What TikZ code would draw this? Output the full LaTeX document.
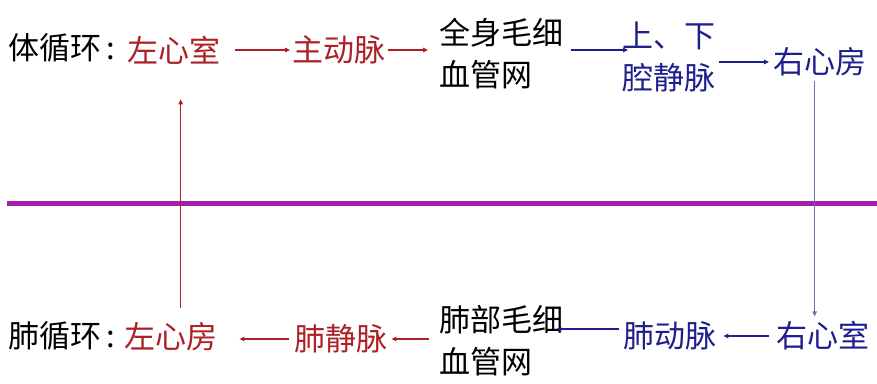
\documentclass[tikz,border=0pt]{standalone}
\usepackage{fontspec}
\usepackage{xcolor}
\usetikzlibrary{arrows.meta}
\newfontfamily\cjk{Noto Sans CJK SC}
\definecolor{organred}{RGB}{172,32,38}
\definecolor{vesselblue}{RGB}{30,30,140}
\definecolor{paleblue}{RGB}{110,110,175}
\definecolor{dividerpurple}{RGB}{165,30,170}

\begin{document}
\begin{tikzpicture}[x=1pt, y=-1pt,
  lbl/.style={inner sep=0pt, anchor=west, font=\cjk\fontsize{31}{42}\selectfont},
  redlbl/.style={lbl, text=organred},
  bluelbl/.style={lbl, text=vesselblue},
  redarrow/.style={organred, line width=1.2pt, -{Triangle[length=5pt,width=4.5pt]}},
  bluearrow/.style={vesselblue, line width=1.2pt, -{Triangle[length=5pt,width=4.5pt]}}]
	\useasboundingbox (0,0) rectangle (877,383);
	% upper half: systemic circulation
	\node[lbl] (tilabel) at (8,48) {体循环\kern5pt:};
	\node[redlbl] (lv) at (127,50) {左心室};
	\node[redlbl] (ao) at (292,50) {主动脉};
	\node[lbl, align=left] (capb) at (439,54) {全身毛细\\血管网};
	\node[bluelbl, align=center] (vc) at (622,57) {上、下\\腔静脉};
	\node[bluelbl] (ra) at (773,62) {右心房};
	% lower half: pulmonary circulation
	\node[lbl] (pclabel) at (8,336) {肺循环\kern5pt:};
	\node[redlbl] (la) at (124,337) {左心房};
	\node[redlbl] (pv) at (294,339) {肺静脉};
	\node[lbl, align=left] (capp) at (439,341) {肺部毛细\\血管网};
	\node[bluelbl] (pa) at (623,336) {肺动脉};
	\node[bluelbl] (rv) at (776,336) {右心室};
	% divider
	\draw[dividerpurple, line width=5pt] (7,203) -- (877,203);
	% connectors
	\draw[redarrow, shorten <=15pt, shorten >=2pt] (lv.east) -- (ao.west);
	\draw[redarrow, shorten <=3pt, shorten >=11pt] (ao.east) -- (ao.east -| capb.west);
	\draw[bluearrow, shorten <=8pt, shorten >=-6pt] ([yshift=4pt]capb.east) -- ([yshift=4pt]capb.east -| vc.west);
	\draw[bluearrow, shorten <=4pt, shorten >=4pt] (vc.east |- ra.west) -- (ra.west);
	\draw[paleblue, line width=1.2pt, -{Triangle[length=5pt,width=4.5pt]}, shorten <=5pt, shorten >=5pt] ([xshift=-5pt]ra.south) -- ([xshift=-5pt]ra.south |- rv.north);
	\draw[bluearrow, shorten <=7pt, shorten >=7pt] (rv.west) -- (rv.west -| pa.east);
	\draw[bluearrow, shorten <=4pt, shorten >=-7pt] ([yshift=7pt]pa.west) -- ([yshift=7pt]pa.west -| capp.east);
	\draw[redarrow, shorten <=10pt, shorten >=4pt] (capp.west |- pv.east) -- (pv.east);
	\draw[redarrow, shorten <=5pt, shorten >=22pt] (pv.west) -- (pv.west -| la.east);
	\draw[redarrow, shorten <=15pt, shorten >=35pt] ([xshift=10pt]la.north) -- ([xshift=10pt]la.north |- lv.south);
\end{tikzpicture}
\end{document}
